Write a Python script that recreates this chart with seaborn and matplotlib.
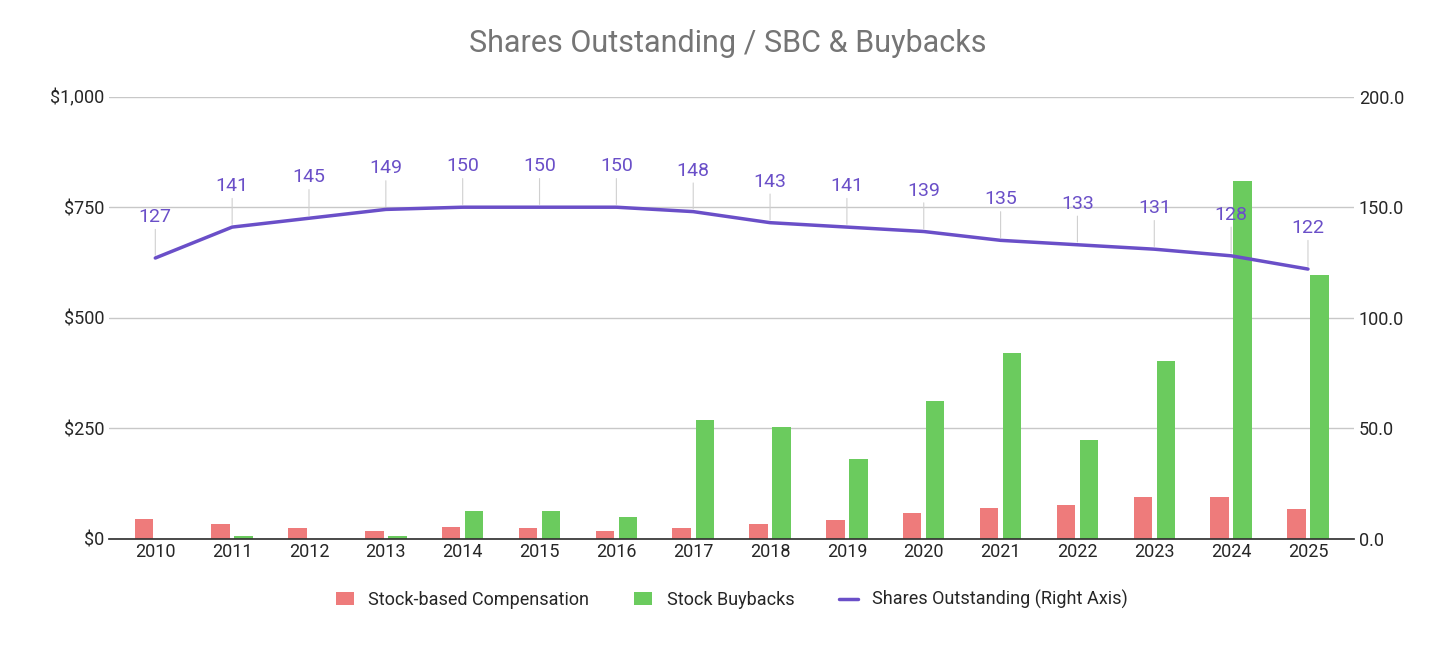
import matplotlib
matplotlib.use("Agg")
import matplotlib.pyplot as plt
import seaborn as sns
import pandas as pd

years = [str(y) for y in range(2010, 2026)]
sbc = [45, 32, 23, 18, 27, 23, 18, 23, 32, 43, 59, 70, 77, 95, 95, 68]
buybacks = [0, 5, 0, 5, 63, 63, 48, 268, 252, 181, 311, 420, 224, 401, 810, 596]
shares = [127, 141, 145, 149, 150, 150, 150, 148, 143, 141, 139, 135, 133, 131, 128, 122]

df = pd.DataFrame({"Year": years * 2,
                   "Value": sbc + buybacks,
                   "Series": ["Stock-based Compensation"] * 16 + ["Stock Buybacks"] * 16})

sns.set_theme(style="white")
plt.rcParams['font.family'] = ['Roboto', 'DejaVu Sans']

fig, ax = plt.subplots(figsize=(14.56, 6.45), dpi=100)
fig.subplots_adjust(left=0.075, right=0.93, top=0.85, bottom=0.165)

sns.barplot(data=df, x="Year", y="Value", hue="Series", ax=ax,
            palette=["#EE7B7B", "#6BCB5E"], width=0.6, gap=0.2,
            edgecolor="none", saturation=1)
ax.set_ylim(0, 1000)
ax.set_yticks([0, 250, 500, 750, 1000])
ax.set_yticklabels(["$0", "$250", "$500", "$750", "$1,000"], fontsize=13)
ax.set_xlabel("")
ax.set_ylabel("")
ax.tick_params(axis="x", labelsize=13, length=0)
ax.tick_params(axis="y", length=0)
ax.grid(axis="y", color="#c8c8c8", lw=1)
ax.set_axisbelow(True)
for s in ["top", "left", "right"]:
    ax.spines[s].set_visible(False)
ax.spines["bottom"].set_color("#333333")
ax.set_xlim(-0.6, 15.6)

ax2 = ax.twinx()
x = list(range(len(years)))
ax2.plot(x, shares, color="#6A4FC8", lw=2.5, label="Shares Outstanding (Right Axis)")
ax2.set_ylim(0, 200)
ax2.set_yticks([0, 50, 100, 150, 200])
ax2.set_yticklabels(["0.0", "50.0", "100.0", "150.0", "200.0"], fontsize=13)
ax2.tick_params(axis="y", length=0)
for s in ["top", "left", "right", "bottom"]:
    ax2.spines[s].set_visible(False)
for xi, v in zip(x, shares):
    ax2.annotate(str(v), (xi, v), xytext=(0, 23), textcoords="offset points",
                 ha="center", va="bottom", fontsize=14, color="#6A4FC8",
                 arrowprops=dict(arrowstyle="-", color="#d0d0d0", lw=0.8,
                                 shrinkA=0, shrinkB=2))

h1, l1 = ax.get_legend_handles_labels()
h2, l2 = ax2.get_legend_handles_labels()
ax.legend(h1 + h2, l1 + l2, loc="upper center", bbox_to_anchor=(0.5, -0.08),
          ncol=3, frameon=False, fontsize=13, handlelength=1.0, columnspacing=2.5)

fig.suptitle("Shares Outstanding / SBC & Buybacks", fontsize=22, color="#757575", y=0.955)
fig.savefig("out.png", dpi=100)
